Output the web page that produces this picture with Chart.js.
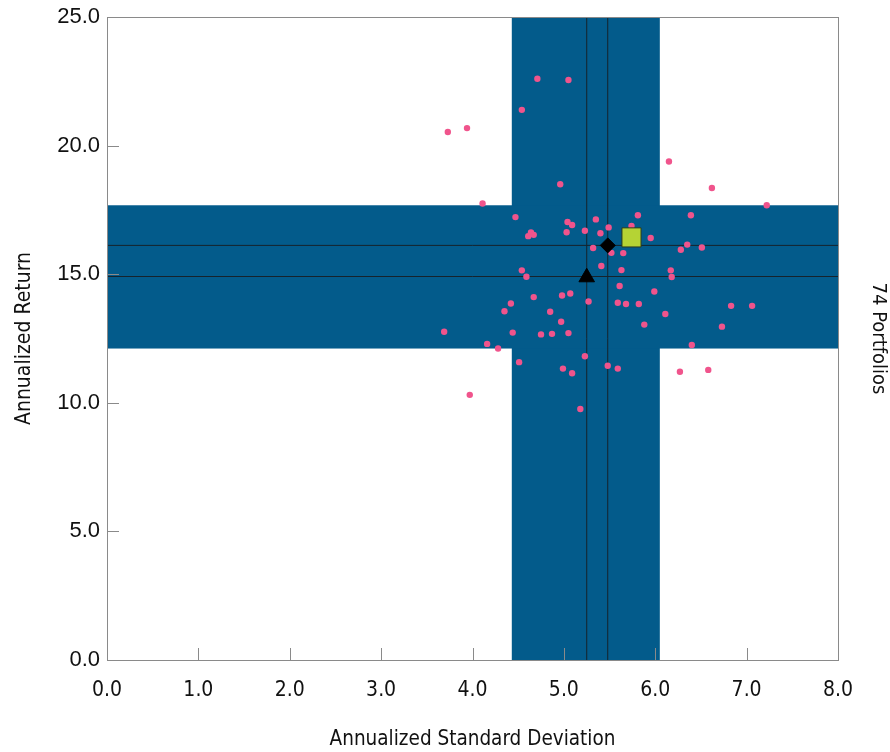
<!DOCTYPE html>
<html>
<head>
<meta charset="utf-8">
<script src="https://cdn.jsdelivr.net/npm/chart.js@4.4.1/dist/chart.umd.min.js"></script>
<style>
  html, body { margin: 0; padding: 0; background: #ffffff; }
  #wrap { width: 890px; height: 752px; }
</style>
</head>
<body>
<div id="wrap"><canvas id="chart" width="890" height="752"></canvas></div>
<script>
// Portfolio risk (x) and return (y)
const portfolioRisk = [4.71, 5.05, 4.54, 3.73, 3.94, 4.96, 4.11, 4.47, 5.04, 5.09,
    5.03, 5.23, 5.35, 5.40, 5.49, 5.81, 5.74, 5.95, 4.64, 4.67,
    4.61, 5.32, 5.52, 5.65, 5.41, 5.63, 4.54, 4.59, 5.61, 5.99,
    4.98, 5.07, 4.67, 5.27, 5.59, 5.68, 5.82, 4.42, 4.35, 4.85,
    4.97, 5.88, 3.69, 4.44, 4.75, 4.87, 5.05, 4.16, 4.28, 5.23,
    4.51, 4.99, 5.09, 5.48, 5.59, 3.97, 5.18, 6.15, 6.62, 7.22,
    6.39, 6.35, 6.28, 6.51, 6.17, 6.18, 6.83, 7.06, 6.11, 6.73,
    6.40, 6.27, 6.58, 5.48];
const portfolioReturn = [22.60, 22.55, 21.39, 20.53, 20.68, 18.50, 17.75, 17.22, 17.03, 16.91,
    16.63, 16.69, 17.13, 16.59, 16.82, 17.29, 16.88, 16.41, 16.62, 16.53,
    16.48, 16.02, 15.83, 15.82, 15.32, 15.16, 15.15, 14.90, 14.54, 14.33,
    14.17, 14.25, 14.11, 13.94, 13.89, 13.84, 13.84, 13.86, 13.56, 13.54,
    13.15, 13.04, 12.76, 12.73, 12.66, 12.68, 12.71, 12.29, 12.11, 11.81,
    11.58, 11.33, 11.15, 11.44, 11.33, 10.31, 9.76, 19.38, 18.35, 17.68,
    17.29, 16.15, 15.95, 16.04, 15.15, 14.89, 13.77, 13.77, 13.45, 12.96,
    12.25, 11.21, 11.28, 16.12];

// Shaded ranges (x band = std dev range, y band = return range)
const bandX = [4.43, 6.05];
const bandY = [12.11, 17.68];

// Reference lines
const refLinesX = [5.25, 5.48];
const refLinesY = [14.91, 16.12];

// Highlighted markers
const triangleMark = { x: 5.25, y: 14.88 };
const diamondMark = { x: 5.48, y: 16.12 };
const squareMark = { x: 5.74, y: 16.43 };

// Axis ticks
const xTicks = [0, 1, 2, 3, 4, 5, 6, 7, 8];
const yTicks = [0, 5, 10, 15, 20, 25];

const portfolioCount = portfolioRisk.length;

const points = portfolioRisk.map((x, i) => ({ x: x, y: portfolioReturn[i] }));

const lineDatasets = [];
refLinesX.forEach(v => {
    lineDatasets.push({
        type: 'scatter', data: [{ x: v, y: 0 }, { x: v, y: 25 }], showLine: true,
        borderColor: '#16232c', borderWidth: 1, pointRadius: 0, order: 3
    });
});
refLinesY.forEach(v => {
    lineDatasets.push({
        type: 'scatter', data: [{ x: 0, y: v }, { x: 8, y: v }], showLine: true,
        borderColor: '#16232c', borderWidth: 1, pointRadius: 0, order: 3
    });
});

const narrowFont = "'DejaVu Sans Condensed', 'Liberation Sans', Arial, sans-serif";

// Draws the blue cross bands under everything
const bandsPlugin = {
    id: 'bands',
    beforeDatasetsDraw(chart) {
        const ctx = chart.ctx;
        const xs = chart.scales.x, ys = chart.scales.y;
        const a = chart.chartArea;
        ctx.save();
        ctx.fillStyle = '#035b8b';
        // vertical band
        const x1 = xs.getPixelForValue(bandX[0]), x2 = xs.getPixelForValue(bandX[1]);
        ctx.fillRect(x1, a.top, x2 - x1, a.bottom - a.top);
        // horizontal band
        const y1 = ys.getPixelForValue(bandY[1]), y2 = ys.getPixelForValue(bandY[0]);
        ctx.fillRect(a.left, y1, a.right - a.left, y2 - y1);
        ctx.restore();
    },
    afterDatasetsDraw(chart) {
        const ctx = chart.ctx;
        const xs = chart.scales.x, ys = chart.scales.y;
        const a = chart.chartArea;
        ctx.save();
        ctx.strokeStyle = '#8a8a8a';
        ctx.lineWidth = 1;
        ctx.beginPath();
        // inward tick marks
        xTicks.slice(1, -1).forEach(v => {
            const px = Math.round(xs.getPixelForValue(v)) + 0.5;
            ctx.moveTo(px, a.bottom);
            ctx.lineTo(px, a.bottom - 12);
        });
        yTicks.slice(1, -1).forEach(v => {
            const py = Math.round(ys.getPixelForValue(v)) + 0.5;
            ctx.moveTo(a.left, py);
            ctx.lineTo(a.left + 12, py);
        });
        ctx.stroke();
        // plot frame
        ctx.strokeRect(Math.round(a.left) + 0.5, Math.round(a.top) + 0.5,
            Math.round(a.right - a.left), Math.round(a.bottom - a.top));
        ctx.restore();
    }
};

new Chart(document.getElementById('chart'), {
    type: 'scatter',
    data: {
        datasets: [
            {
                data: [triangleMark], pointStyle: 'triangle', pointRadius: 9,
                backgroundColor: '#000000', borderColor: '#000000', borderWidth: 1, order: 0
            },
            {
                data: [diamondMark], pointStyle: 'rectRot', pointRadius: 7.5,
                backgroundColor: '#000000', borderColor: '#000000', borderWidth: 1, order: 0
            },
            {
                data: [squareMark], pointStyle: 'rect', pointRadius: 13.5,
                backgroundColor: '#b5d334', borderColor: '#2b3a1e', borderWidth: 1, order: 0
            },
            {
                data: points, pointRadius: 3.2, pointHoverRadius: 3.2,
                backgroundColor: '#f0548c', borderWidth: 0, order: 1
            },
            ...lineDatasets
        ]
    },
    options: {
        responsive: false,
        animation: false,
        layout: { padding: { top: 17, right: 0, left: 0, bottom: 0 } },
        plugins: {
            legend: { display: false },
            tooltip: { enabled: false }
        },
        scales: {
            x: {
                type: 'linear', min: 0, max: 8,
                afterBuildTicks: s => { s.ticks = xTicks.map(v => ({ value: v })); },
                afterFit: s => { s.height = 92; s.paddingLeft = 0; s.paddingRight = 0; },
                grid: { display: false, drawTicks: false },
                border: { display: false },
                ticks: {
                    padding: 18, color: '#111',
                    font: { family: narrowFont, size: 21 },
                    callback: v => Number(v).toFixed(1)
                },
                title: {
                    display: true, text: 'Annualized Standard Deviation', color: '#111',
                    font: { family: narrowFont, size: 20.5 }, padding: { top: 0, bottom: 0 }
                }
            },
            y: {
                type: 'linear', min: 0, max: 25,
                afterBuildTicks: s => { s.ticks = yTicks.map(v => ({ value: v })); },
                afterFit: s => { s.width = 107; s.paddingTop = 0; s.paddingBottom = 0; },
                grid: { display: false, drawTicks: false },
                border: { display: false },
                ticks: {
                    padding: 7, color: '#111',
                    font: { family: "'Liberation Sans', Arial, sans-serif", size: 22 },
                    callback: v => Number(v).toFixed(1)
                },
                title: {
                    display: true, text: 'Annualized Return', color: '#111',
                    font: { family: narrowFont, size: 21 }, padding: { top: 12, bottom: 0 }
                }
            },
            y2: {
                type: 'linear', position: 'right', min: 0, max: 25,
                afterFit: s => { s.width = 52; s.paddingTop = 0; s.paddingBottom = 0; },
                grid: { display: false, drawTicks: false },
                border: { display: false },
                ticks: { display: false },
                title: {
                    display: true, text: portfolioCount + ' Portfolios', color: '#111',
                    font: { family: narrowFont, size: 20 }, padding: { top: 0, bottom: 14 }
                }
            }
        }
    },
    plugins: [bandsPlugin]
});
</script>
</body>
</html>
